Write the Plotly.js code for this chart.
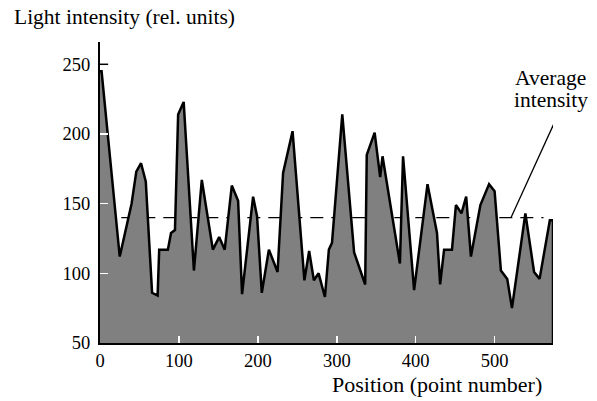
<!DOCTYPE html>
<html>
<head>
<meta charset="utf-8">
<script src="https://cdn.plot.ly/plotly-3.0.1.min.js"></script>
<style>html,body{margin:0;padding:0;background:#fff}#chart{width:597px;height:401px}</style>
</head>
<body>
<div id="chart"></div>
<script>
// Data
const positions = [0, 2, 25, 40, 46, 52, 58, 66, 73, 75, 86, 90, 95, 99, 106, 119, 129, 143, 151, 158, 167, 175, 180, 194, 199, 205, 214, 225, 232, 244, 259, 265, 271, 277, 285, 290, 294, 307, 322, 336, 338, 348, 355, 358, 380, 384, 398, 415, 427, 431, 436, 446, 451, 458, 464, 470, 482, 493, 500, 508, 516, 522, 539, 550, 557, 570, 574, 574];
const intensity = [245, 245, 112, 150, 173, 179, 166, 86, 84, 117, 117, 129, 131, 214, 223, 102, 167, 117, 126, 117, 163, 152, 85, 155, 141, 86, 117, 101, 172, 202, 95, 116, 95, 100, 83, 117, 122, 214, 115, 92, 185, 201, 169, 184, 107, 184, 88, 164, 129, 92, 117, 117, 149, 143, 155, 112, 149, 164, 159, 102, 96, 75, 143, 101, 96, 138, 138, 50];
const averageIntensity = 140;
const averageSpan = [27, 562];
const yTicks = [50, 100, 150, 200, 250];
const xTicks = [0, 100, 200, 300, 400, 500];
const labelLines = ["Average", "intensity"];

const serif = "Liberation Serif";

const traces = [
  {
    x: averageSpan,
    y: averageSpan.map(() => averageIntensity),
    mode: "lines",
    line: {color: "#000", width: 1.3, dash: "13px,8px"},
    hoverinfo: "skip"
  },
  {
    x: positions,
    y: intensity,
    mode: "lines",
    fill: "tozeroy",
    fillcolor: "#808080",
    line: {color: "#000", width: 2.5},
    hoverinfo: "skip"
  }
];

const layout = {
  width: 597, height: 401,
  margin: {l: 100, r: 44, t: 42, b: 58},
  paper_bgcolor: "#fff", plot_bgcolor: "#fff",
  showlegend: false,
  font: {family: serif, size: 18.5, color: "#000"},
  xaxis: {
    range: [0, 574], tickvals: xTicks, ticktext: xTicks.map(String),
    showgrid: false, zeroline: false, showline: true, linecolor: "#000", linewidth: 2,
    ticks: "inside", ticklen: 7, tickwidth: 1.5, tickcolor: "#fff",
    tickfont: {family: serif, size: 18.5}
  },
  yaxis: {
    range: [50, 266], tickvals: yTicks, ticktext: yTicks.map(String),
    showgrid: false, zeroline: false, showline: true, linecolor: "#000", linewidth: 2,
    ticks: "inside", ticklen: 8, tickwidth: 1.5, tickcolor: "#fff",
    tickfont: {family: serif, size: 18.5}, ticklabelstandoff: 4
  },
  shapes: [
    {type: "line", xref: "paper", yref: "y", x0: 0, x1: 0.018, y0: yTicks[4], y1: yTicks[4],
     line: {color: "#000", width: 1.5}, layer: "above"},
    {type: "line", xref: "x", yref: "y", x0: 521, y0: averageIntensity + 0.3, x1: 578, y1: 211,
     line: {color: "#000", width: 1.3}}
  ],
  annotations: [
    {text: "Light intensity (rel. units)", xref: "paper", yref: "paper", x: -0.194, y: 1.0,
     xanchor: "left", yanchor: "bottom", yshift: 11, showarrow: false,
     font: {family: serif, size: 21.5}},
    {text: "Position (point number)", xref: "paper", yref: "paper", x: 0.98, y: 0,
     xanchor: "right", yanchor: "top", yshift: -27, showarrow: false,
     font: {family: serif, size: 22}},
    {text: labelLines[0], xref: "x", yref: "y", x: 571, y: 240,
     xanchor: "center", yanchor: "middle", showarrow: false,
     font: {family: serif, size: 21.5}},
    {text: labelLines[1], xref: "x", yref: "y", x: 571, y: 224.5,
     xanchor: "center", yanchor: "middle", showarrow: false,
     font: {family: serif, size: 21.5}}
  ]
};

Plotly.newPlot("chart", traces, layout, {staticPlot: true, displayModeBar: false});
</script>
</body>
</html>
